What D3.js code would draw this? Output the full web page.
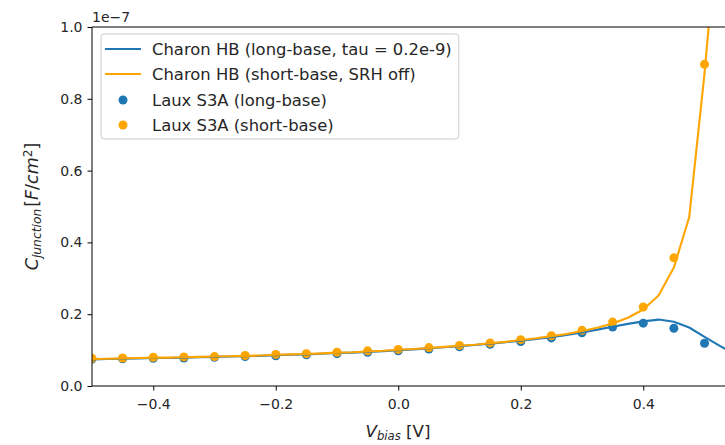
<!DOCTYPE html>
<html>
<head>
<meta charset="utf-8">
<script src="https://cdn.jsdelivr.net/npm/d3@7"></script>
<style>
body { margin: 0; background: #fff; }
text { font-family: "DejaVu Sans", sans-serif; fill: #262626; }
</style>
</head>
<body>
<script>
// values in units of 1e-7 F/cm^2
var dotBias = [-0.5, -0.45, -0.4, -0.35, -0.3, -0.25, -0.2, -0.15, -0.1, -0.05, 0.0,
               0.05, 0.1, 0.15, 0.2, 0.25, 0.3, 0.35, 0.4, 0.45, 0.5];
var lauxLong = [0.075, 0.076, 0.077, 0.078, 0.080, 0.082, 0.084, 0.087, 0.090, 0.094, 0.098,
                0.103, 0.109, 0.116, 0.124, 0.134, 0.148, 0.164, 0.175, 0.161, 0.119];
var lauxShort = [0.077, 0.078, 0.080, 0.081, 0.082, 0.085, 0.088, 0.090, 0.094, 0.098, 0.102,
                 0.107, 0.113, 0.120, 0.129, 0.140, 0.155, 0.178, 0.220, 0.357, 0.896];

var lineBias = [-0.5, -0.475, -0.45, -0.425, -0.4, -0.375, -0.35, -0.325, -0.3, -0.275, -0.25,
                -0.225, -0.2, -0.175, -0.15, -0.125, -0.1, -0.075, -0.05, -0.025, 0.0,
                0.025, 0.05, 0.075, 0.1, 0.125, 0.15, 0.175, 0.2, 0.225, 0.25,
                0.275, 0.3, 0.325, 0.35, 0.375, 0.4, 0.425, 0.45, 0.475, 0.5, 0.525, 0.55];
var charonLong = [0.074, 0.075, 0.076, 0.077, 0.078, 0.078, 0.079, 0.080, 0.081, 0.082, 0.083,
                  0.084, 0.086, 0.087, 0.088, 0.090, 0.092, 0.093, 0.095, 0.097, 0.100,
                  0.102, 0.105, 0.108, 0.111, 0.114, 0.118, 0.122, 0.126, 0.131, 0.136,
                  0.142, 0.149, 0.157, 0.165, 0.173, 0.180, 0.185, 0.179, 0.163, 0.137, 0.112, 0.087];
var charonShort = [0.075, 0.076, 0.077, 0.078, 0.079, 0.079, 0.080, 0.081, 0.082, 0.083, 0.084,
                   0.085, 0.087, 0.088, 0.089, 0.091, 0.093, 0.094, 0.096, 0.098, 0.101,
                   0.103, 0.106, 0.109, 0.112, 0.115, 0.119, 0.123, 0.128, 0.133, 0.139,
                   0.145, 0.153, 0.162, 0.174, 0.190, 0.213, 0.252, 0.330, 0.470, 0.870, 1.35, 2.2];

var xTicks = [-0.4, -0.2, 0.0, 0.2, 0.4];
var yTicks = [0.0, 0.2, 0.4, 0.6, 0.8, 1.0];

var legendLabels = ["Charon HB (long-base, tau = 0.2e-9)", "Charon HB (short-base, SRH off)",
                    "Laux S3A (long-base)", "Laux S3A (short-base)"];

(function() {
var blue = "#1f77b4", orange = "orange";
var W = 725, H = 445;
var pLeft = 92, pTop = 27, pBottom = 386;

var svg = d3.select("body").append("svg").attr("width", W).attr("height", H);

var x = d3.scaleLinear().domain([-0.5, 0.55]).range([pLeft, pLeft + 1.05 * 612.5]);
var y = d3.scaleLinear().domain([0, 1]).range([pBottom, pTop]);

svg.append("defs").append("clipPath").attr("id", "plot")
  .append("rect").attr("x", pLeft).attr("y", pTop)
  .attr("width", x.range()[1] - pLeft).attr("height", pBottom - pTop);

var plot = svg.append("g").attr("clip-path", "url(#plot)");

// scatter (drawn under the lines, like matplotlib)
function dots(vals, col) {
  plot.append("g").selectAll("circle").data(vals).enter().append("circle")
    .attr("cx", function(d, i) { return x(dotBias[i]); })
    .attr("cy", function(d) { return y(d); })
    .attr("r", 4.5)
    .attr("fill", col);
}
dots(lauxLong, blue);
dots(lauxShort, orange);

function curve(vals, col) {
  var line = d3.line().x(function(d, i) { return x(lineBias[i]); }).y(function(d) { return y(d); });
  plot.append("path").datum(vals).attr("d", line)
    .attr("fill", "none").attr("stroke", col).attr("stroke-width", 2.1)
    .attr("stroke-linejoin", "round");
}
curve(charonLong, blue);
curve(charonShort, orange);

// axes
var fmt = function(d) { return d3.format(".1f")(d).replace("-", "\u2212"); };
var xAxis = svg.append("g").attr("transform", "translate(0," + pBottom + ")")
  .call(d3.axisBottom(x).tickValues(xTicks).tickFormat(fmt).tickSize(4.5).tickPadding(5));
var yAxis = svg.append("g").attr("transform", "translate(" + pLeft + ",0)")
  .call(d3.axisLeft(y).tickValues(yTicks).tickFormat(fmt).tickSize(4.5).tickPadding(5));
[xAxis, yAxis].forEach(function(a) {
  a.select(".domain").remove();
  a.selectAll("line").attr("stroke", "#000").attr("stroke-width", 1);
  a.selectAll("text").attr("font-size", 14).attr("fill", "#262626")
    .style("font-family", "DejaVu Sans");
});
xAxis.selectAll("text").attr("dy", "0.95em");

// spines
svg.append("line").attr("x1", pLeft).attr("x2", pLeft).attr("y1", pTop).attr("y2", pBottom)
  .attr("stroke", "#000").attr("stroke-width", 1);
svg.append("line").attr("x1", pLeft).attr("x2", W).attr("y1", pBottom).attr("y2", pBottom)
  .attr("stroke", "#000").attr("stroke-width", 1);
svg.append("line").attr("x1", pLeft).attr("x2", W).attr("y1", pTop).attr("y2", pTop)
  .attr("stroke", "#000").attr("stroke-width", 1);

// offset text
svg.append("text").attr("x", pLeft).attr("y", 22).attr("font-size", 14).text("1e\u22127");

// axis labels
var xl = svg.append("text").attr("x", 398).attr("y", 437).attr("text-anchor", "middle")
  .attr("font-size", 16.7);
xl.append("tspan").attr("font-style", "italic").text("V");
xl.append("tspan").attr("font-style", "italic").attr("font-size", 11.7).attr("dy", 3).text("bias");
xl.append("tspan").attr("dy", -3).text(" [V]");

var yl = svg.append("text").attr("transform", "translate(38," + ((pTop + pBottom) / 2) + ") rotate(-90)")
  .attr("text-anchor", "middle").attr("font-size", 17.5);
yl.append("tspan").attr("font-style", "italic").text("C");
yl.append("tspan").attr("font-style", "italic").attr("font-size", 12.3).attr("dy", 3).text("junction");
yl.append("tspan").attr("dy", -3).attr("dx", 2).text("[");
yl.append("tspan").attr("font-style", "italic").text("F");
yl.append("tspan").text("/");
yl.append("tspan").attr("font-style", "italic").text("cm");
yl.append("tspan").attr("font-size", 12.3).attr("dy", -6).text("2");
yl.append("tspan").attr("dy", 6).text("]");

// legend
var lg = svg.append("g");
var box = lg.append("rect").attr("x", 101).attr("y", 34).attr("height", 105)
  .attr("rx", 3).attr("fill", "#fff").attr("fill-opacity", 0.8)
  .attr("stroke", "#ccc").attr("stroke-width", 1);
var rowY = [49, 74, 100, 125];
var maxW = 0;
legendLabels.forEach(function(lab, i) {
  var col = (i % 2 === 0) ? blue : orange;
  if (i < 2) {
    lg.append("line").attr("x1", 105).attr("x2", 141).attr("y1", rowY[i]).attr("y2", rowY[i])
      .attr("stroke", col).attr("stroke-width", 2.1);
  } else {
    lg.append("circle").attr("cx", 123).attr("cy", rowY[i]).attr("r", 4.5).attr("fill", col);
  }
  var t = lg.append("text").attr("x", 152).attr("y", rowY[i]).attr("dy", "0.36em")
    .attr("font-size", 16.4).text(lab);
  maxW = Math.max(maxW, t.node().getComputedTextLength());
});
box.attr("width", 152 + maxW + 7 - 101);
})();
</script>
</body>
</html>
